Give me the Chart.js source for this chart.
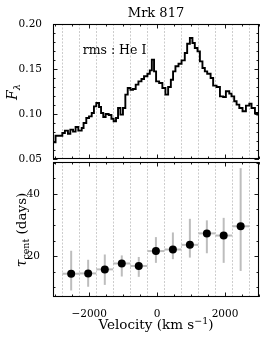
<!DOCTYPE html>
<html><head><meta charset="utf-8">
<script src="https://cdn.jsdelivr.net/npm/chart.js@4.4.1/dist/chart.umd.min.js"></script>
<style>
html,body{margin:0;padding:0;background:#fff;}
#wrap{position:relative;width:266px;height:342px;overflow:hidden;background:#fff;}
canvas{position:absolute;left:0;top:0;}
</style></head><body>
<div id="wrap"><canvas id="top" width="266" height="342"></canvas><canvas id="bot" width="266" height="342"></canvas></div>
<script>
// ---- data ----
const specVel = [-3065,-2990,-2790,-2715,-2625,-2555,-2475,-2400,-2320,-2220,-2165,-2085,-2005,-1925,-1860,-1790,-1710,-1650,-1585,-1515,-1425,-1345,-1280,-1210,-1150,-1080,-1005,-935,-865,-785,-710,-630,-550,-460,-385,-285,-215,-155,-90,-30,60,155,245,325,405,470,540,630,720,815,885,965,1040,1110,1190,1260,1335,1405,1475,1575,1650,1750,1850,1945,2025,2125,2190,2270,2340,2420,2515,2615,2715,2780,2880,2950];
const specFlux = [0.0685,0.0759,0.0789,0.0815,0.0781,0.0826,0.0804,0.0856,0.0815,0.0844,0.0900,0.0956,0.0974,0.1011,0.1085,0.1122,0.1078,0.1011,0.0967,0.1000,0.0989,0.0948,0.0919,0.0956,0.1067,0.0993,0.1067,0.1215,0.1289,0.1270,0.1278,0.1326,0.1363,0.1389,0.1419,0.1448,0.1485,0.1604,0.1474,0.1363,0.1344,0.1289,0.1215,0.1300,0.1381,0.1474,0.1530,0.1559,0.1596,0.1678,0.1781,0.1844,0.1789,0.1733,0.1696,0.1585,0.1511,0.1474,0.1448,0.1400,0.1315,0.1300,0.1196,0.1189,0.1252,0.1226,0.1196,0.1141,0.1104,0.1067,0.1030,0.1093,0.1115,0.1067,0.1011,0.0993];
const specEnd = 3000;
const binEdges = [-2790,-2285,-1790,-1295,-790,-285,215,715,1215,1715,2210,2710];
const binVel = [-2530,-2030,-1540,-1040,-540,-35,465,965,1465,1960,2460];
const tau = [14.3,14.4,15.7,17.6,16.8,21.6,22.1,23.6,27.3,26.6,29.6];
const tauLo = [8.9,10.1,10.7,13.4,13.3,17.8,19.0,19.5,20.9,17.8,15.2];
const tauHi = [21.7,18.8,20.5,20.2,19.7,26.1,27.6,32.0,31.5,32.3,48.3];
const xTicks = [-2000,0,2000];
const xMinor = [-3000,-2500,-1500,-1000,-500,500,1000,1500,2500,3000];
const fluxTicks = [0.05,0.10,0.15,0.20];
const fluxMinor = [0.06,0.07,0.08,0.09,0.11,0.12,0.13,0.14,0.16,0.17,0.18,0.19];
const tauTicks = [20,40];
const tauMinor = [10,15,25,30,35,45,50];

const FONT = "'DejaVu Serif', serif";

function drawRich(ctx, parts, x, y, rot, align) {
  ctx.save(); ctx.translate(x, y); if (rot) ctx.rotate(rot);
  let w = 0;
  parts.forEach(p => { ctx.font = p.f; p.w = ctx.measureText(p.t).width; w += p.w; });
  let cx = align === 'left' ? 0 : -w / 2;
  ctx.textBaseline = 'alphabetic'; ctx.textAlign = 'left'; ctx.fillStyle = '#000';
  parts.forEach(p => { ctx.font = p.f; ctx.fillText(p.t, cx, p.dy || 0); cx += p.w; });
  ctx.restore();
}

const panelPlugin = {
  id: 'panel',
  beforeDatasetsDraw(chart, args, opts) {
    const {ctx, chartArea: a, scales} = chart;
    ctx.save();
    ctx.beginPath(); ctx.rect(a.left, a.top, a.right - a.left, a.bottom - a.top); ctx.clip();
    ctx.strokeStyle = 'rgba(0,0,0,0.25)'; ctx.lineWidth = 0.8; ctx.setLineDash([2, 1.5]);
    binEdges.forEach(v => {
      const x = Math.round(scales.x.getPixelForValue(v)) + 0.5;
      ctx.beginPath(); ctx.moveTo(x, a.top); ctx.lineTo(x, a.bottom); ctx.stroke();
    });
    ctx.setLineDash([]);
    if (opts.errors) {
      ctx.strokeStyle = '#bdbdbd'; ctx.lineWidth = 2;
      binVel.forEach((v, i) => {
        const x = scales.x.getPixelForValue(v);
        ctx.beginPath();
        ctx.moveTo(x, scales.y.getPixelForValue(tauLo[i]));
        ctx.lineTo(x, scales.y.getPixelForValue(tauHi[i]));
        ctx.stroke();
        const y = scales.y.getPixelForValue(tau[i]);
        ctx.beginPath();
        ctx.moveTo(scales.x.getPixelForValue(binEdges[i]), y);
        ctx.lineTo(scales.x.getPixelForValue(binEdges[i + 1]), y);
        ctx.stroke();
      });
    }
    ctx.restore();
  },
  afterDraw(chart, args, opts) {
    const {ctx, chartArea: a, scales} = chart;
    ctx.save();
    ctx.strokeStyle = '#000'; ctx.lineWidth = 0.9;
    const tick = (vals, len, axis) => {
      vals.forEach(v => {
        if (axis === 'x') {
          const x = Math.round(scales.x.getPixelForValue(v)) + 0.5;
          ctx.beginPath(); ctx.moveTo(x, a.bottom); ctx.lineTo(x, a.bottom - len);
          ctx.moveTo(x, a.top); ctx.lineTo(x, a.top + len); ctx.stroke();
        } else {
          const y = Math.round(scales.y.getPixelForValue(v)) + 0.5;
          ctx.beginPath(); ctx.moveTo(a.left, y); ctx.lineTo(a.left + len, y);
          ctx.moveTo(a.right, y); ctx.lineTo(a.right - len, y); ctx.stroke();
        }
      });
    };
    tick(xTicks, 4.5, 'x'); tick(xMinor, 2.5, 'x');
    tick(opts.yMajor, 4.5, 'y'); tick(opts.yMinor, 2.5, 'y');
    ctx.lineWidth = 1.1;
    ctx.strokeRect(a.left + 0.5, a.top + 0.5, a.right - a.left - 1, a.bottom - a.top - 1);
    ctx.restore();
    (opts.texts || []).forEach(t => {
      let x = t.x, y = t.y;
      if (t.data) { x = scales.x.getPixelForValue(t.data[0]); y = scales.y.getPixelForValue(t.data[1]); }
      drawRich(ctx, t.parts, x, y, t.rot, t.align);
    });
  }
};

new Chart(document.getElementById('top'), {
  type: 'line',
  data: { datasets: [{
    data: specVel.map((v, i) => ({x: v, y: specFlux[i]})).concat([{x: specEnd, y: specFlux[specFlux.length - 1]}]),
    stepped: true, borderColor: '#000', borderWidth: 1.9, pointRadius: 0, fill: false
  }]},
  options: {
    responsive: false, animation: false, events: [],
    layout: {padding: {left: 0, right: 7, top: 24, bottom: 183}},
    plugins: {
      legend: {display: false}, tooltip: {enabled: false},
      panel: {
        yMajor: fluxTicks, yMinor: fluxMinor,
        texts: [
          {parts: [{t: 'Mrk 817', f: '13px ' + FONT}], x: 156, y: 17.3},
          {parts: [{t: 'rms : He I', f: '12.5px ' + FONT}], data: [-2190, 0.1662], align: 'left'},
          {parts: [{t: 'F', f: 'italic 14px ' + FONT}, {t: 'λ', f: 'italic 10px ' + FONT, dy: 3}], x: 17, y: 92, rot: -Math.PI / 2}
        ]
      }
    },
    scales: {
      x: {type: 'linear', min: -3065, max: 3000, display: false},
      y: {type: 'linear', min: 0.05, max: 0.20,
        afterBuildTicks: s => { s.ticks = fluxTicks.map(v => ({value: v})); },
        afterFit: s => { s.width = 53; },
        grid: {display: false}, border: {display: false},
        ticks: {padding: 3, color: '#000', font: {family: FONT, size: 10.5}, callback: v => Number(v).toFixed(2)}
      }
    }
  },
  plugins: [panelPlugin]
});

new Chart(document.getElementById('bot'), {
  type: 'scatter',
  data: { datasets: [{
    data: binVel.map((v, i) => ({x: v, y: tau[i]})),
    pointRadius: 4, backgroundColor: '#000', borderWidth: 0, showLine: false
  }]},
  options: {
    responsive: false, animation: false, events: [],
    layout: {padding: {left: 0, right: 7, top: 162, bottom: 25}},
    plugins: {
      legend: {display: false}, tooltip: {enabled: false},
      panel: {
        errors: true, yMajor: tauTicks, yMinor: tauMinor,
        texts: [
          {parts: [{t: 'τ', f: 'italic 14px ' + FONT}, {t: 'cent', f: '9.5px ' + FONT, dy: 3}, {t: ' (days)', f: '13.5px ' + FONT}], x: 26, y: 230, rot: -Math.PI / 2},
          {parts: [{t: 'Velocity (km s', f: '13.5px ' + FONT}, {t: '−1', f: '9.5px ' + FONT, dy: -5}, {t: ')', f: '13.5px ' + FONT}], x: 156, y: 329}
        ]
      }
    },
    scales: {
      x: {type: 'linear', min: -3065, max: 3000,
        afterBuildTicks: s => { s.ticks = xTicks.map(v => ({value: v})); },
        afterFit: s => { s.height = 20; },
        grid: {display: false}, border: {display: false},
        ticks: {padding: 3, maxRotation: 0, autoSkip: false, color: '#000', font: {family: FONT, size: 10.5},
          callback: v => (v < 0 ? '−' + Math.abs(v) : String(v))}
      },
      y: {type: 'linear', min: 6.8, max: 50.3,
        afterBuildTicks: s => { s.ticks = tauTicks.map(v => ({value: v})); },
        afterFit: s => { s.width = 53; },
        grid: {display: false}, border: {display: false},
        ticks: {padding: 5, color: '#000', font: {family: FONT, size: 10.5}}
      }
    }
  },
  plugins: [panelPlugin]
});
</script>
</body></html>
